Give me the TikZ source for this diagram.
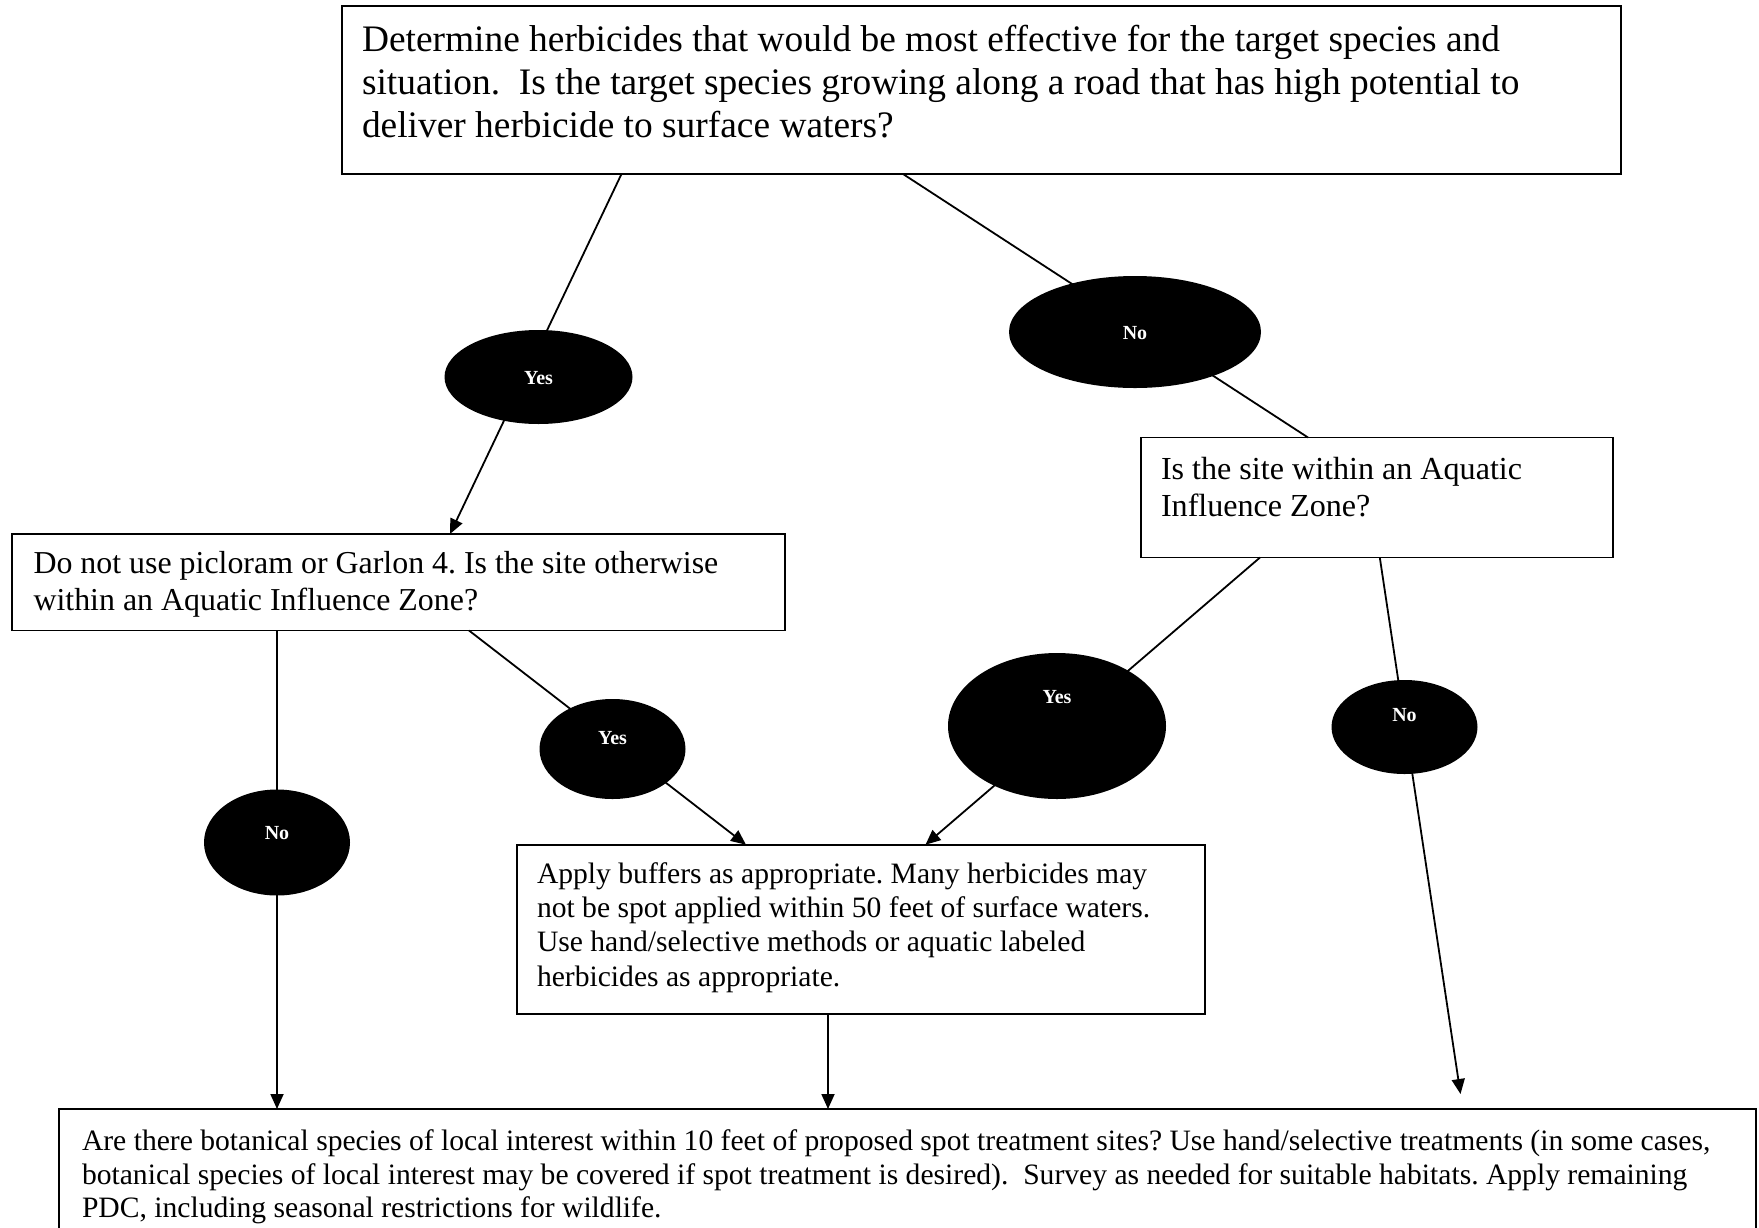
\documentclass[tikz,border=0pt]{standalone}
\usepackage{fontspec}
\setmainfont{Liberation Serif}
\usetikzlibrary{arrows.meta,shapes.geometric}
\newcommand\btext[3]{\parbox[c][#2][t]{#1}{\raggedright\frenchspacing #3}}
\begin{document}
\begin{tikzpicture}[x=1pt,y=-1pt,
  box/.style={draw, line width=1.8pt, inner xsep=20pt, outer sep=0pt, anchor=north west},
  oval/.style={ellipse, fill=black, draw=none, text=white, inner sep=0pt,
    font=\fontsize{20}{24}\selectfont\bfseries, text height=14pt, text depth=0pt},
  conn/.style={line width=1.8pt},
  arr/.style={conn, -{Triangle[length=15pt,width=13pt]}}]
\useasboundingbox[fill=white] (0,0) rectangle (1759,1227);

% boxes
\node[box, inner ysep=19.5pt] (top) at (342,6)
  {\btext{1239pt}{129pt}{\fontsize{37.4}{42.6}\selectfont
   Determine herbicides that would be most effective for the target species and\\
   situation.\ \ Is the target species growing along a road that has high potential to\\
   deliver herbicide to surface waters?}};
\node[box, inner ysep=19.5pt] (rbox) at (1141,437.5)
  {\btext{432pt}{81pt}{\fontsize{32.1}{37}\selectfont
   Is the site within an Aquatic\\ Influence Zone?}};
\node[box, inner xsep=21.5pt, inner ysep=17.5pt] (lbox) at (12,534)
  {\btext{730pt}{61.5pt}{\fontsize{31.9}{37}\selectfont
   Do not use picloram or Garlon 4. Is the site otherwise\\
   within an Aquatic Influence Zone?}};
\node[box, inner ysep=17.5pt] (apply) at (517,844.7)
  {\btext{648pt}{134.3pt}{\fontsize{29.6}{34.4}\selectfont
   Apply buffers as appropriate. Many herbicides may\\
   not be spot applied within 50 feet of surface waters.\\
   Use hand/selective methods or aquatic labeled\\
   herbicides as appropriate.}};
\node[box, inner xsep=23pt, inner ysep=20.5pt] (bot) at (59,1109)
  {\btext{1651pt}{159pt}{\fontsize{29.6}{33.7}\selectfont
   Are there botanical species of local interest within 10 feet of proposed spot treatment sites? Use hand/selective treatments (in some cases,\\
   botanical species of local interest may be covered if spot treatment is desired).\ \ Survey as needed for suitable habitats. Apply remaining\\
   PDC, including seasonal restrictions for wildlife.}};

% connectors
\draw[arr] ([xshift=-360pt]top.south) -- ([xshift=51.5pt]lbox.north);
\draw[conn] ([xshift=-78.5pt]top.south) -- ([xshift=-69pt]rbox.north);
\draw[arr] ([xshift=-117pt]rbox.south) -- ([xshift=64.5pt]apply.north);
\draw[arr] ([xshift=2.8pt]rbox.south) -- ([xshift=553pt,yshift=15pt]bot.north);
\draw[arr] ([xshift=-121.5pt]lbox.south) -- ([xshift=-630.5pt]bot.north);
\draw[arr] ([xshift=70.5pt]lbox.south) -- ([xshift=-115pt]apply.north);
\draw[arr] ([xshift=-33pt]apply.south) -- ([xshift=-79.5pt]bot.north);

% answer ovals
\node[oval, minimum width=188pt, minimum height=94pt] (yes1) at (538.5,377) {Yes};
\node[oval, minimum width=252pt, minimum height=112pt] (no1) at (1135,332) {No};
\node[oval, minimum width=146pt, minimum height=100pt] (yes2) at (612.5,749) {\raisebox{12pt}{Yes}};
\node[oval, minimum width=218pt, minimum height=146pt] (yes3) at (1057,726) {\raisebox{30pt}{Yes}};
\node[oval, minimum width=146pt, minimum height=94pt] (no3) at (1404.5,727) {\raisebox{13pt}{No}};
\node[oval, minimum width=146pt, minimum height=106pt] (no2) at (277,842.5) {\raisebox{10pt}{No}};
\end{tikzpicture}
\end{document}
